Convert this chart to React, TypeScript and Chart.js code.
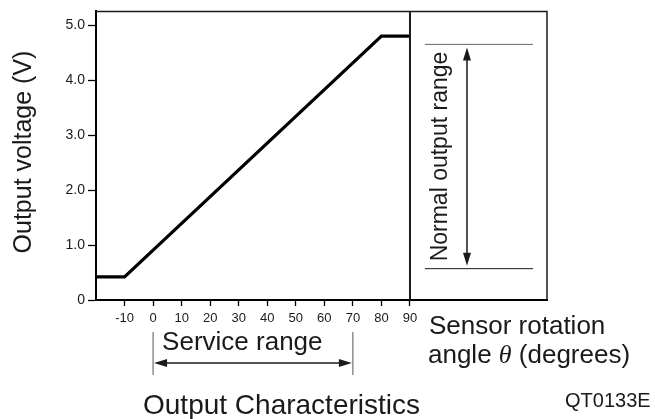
import React, { useEffect, useRef } from "react";
import { Chart, registerables } from "chart.js";

Chart.register(...registerables);

// ---- data ----
const angles = [-20, -10, 80, 90];
const voltages = [0.42, 0.42, 4.8, 4.8];
const xTickValues = [-10, 0, 10, 20, 30, 40, 50, 60, 70, 80, 90];
const yTickValues = [0, 1, 2, 3, 4, 5];
const normalOutputRange = [0.57, 4.65];
const serviceRange = [0, 70];
const sensorLimitAngle = 90;

const FONT = '"Liberation Sans", Arial, sans-serif';
const INK = "#1a1a1a";

function arrowHead(ctx: CanvasRenderingContext2D, x: number, y: number, dx: number, dy: number, len: number, half: number) {
  const px = -dy, py = dx;
  ctx.beginPath();
  ctx.moveTo(x, y);
  ctx.lineTo(x - dx * len + px * half, y - dy * len + py * half);
  ctx.lineTo(x - dx * len - px * half, y - dy * len - py * half);
  ctx.closePath();
  ctx.fill();
}

const annotations = {
  id: "annotations",
  afterDraw(chart: any) {
    const ctx: CanvasRenderingContext2D = chart.ctx;
    const xs = chart.scales.x;
    const ys = chart.scales.y;
    const { left, right, top, bottom } = chart.chartArea;
    ctx.save();
    ctx.strokeStyle = INK;
    ctx.fillStyle = INK;

    // box top and right
    ctx.lineWidth = 1.5;
    ctx.beginPath();
    ctx.moveTo(left, top);
    ctx.lineTo(right, top);
    ctx.lineTo(right, bottom);
    ctx.stroke();

    // limit line at 90 deg
    const x90 = xs.getPixelForValue(sensorLimitAngle);
    ctx.lineWidth = 2;
    ctx.beginPath();
    ctx.moveTo(x90, top);
    ctx.lineTo(x90, bottom);
    ctx.stroke();

    // normal output range
    const yHi = ys.getPixelForValue(normalOutputRange[1]);
    const yLo = ys.getPixelForValue(normalOutputRange[0]);
    const lineL = x90 + 15;
    const lineR = right - 14;
    ctx.lineWidth = 1;
    ctx.strokeStyle = "#666";
    ctx.beginPath();
    ctx.moveTo(lineL, yHi);
    ctx.lineTo(lineR, yHi);
    ctx.stroke();
    ctx.strokeStyle = INK;
    ctx.beginPath();
    ctx.moveTo(lineL, yLo);
    ctx.lineTo(lineR, yLo);
    ctx.stroke();
    const ax = x90 + 57;
    ctx.lineWidth = 1.5;
    ctx.beginPath();
    ctx.moveTo(ax, yHi + 10);
    ctx.lineTo(ax, yLo - 10);
    ctx.stroke();
    arrowHead(ctx, ax, yHi + 3, 0, -1, 13, 4);
    arrowHead(ctx, ax, yLo - 3, 0, 1, 13, 4);

    ctx.save();
    ctx.translate(x90 + 37, (yHi + yLo) / 2);
    ctx.rotate(-Math.PI / 2);
    ctx.font = `23px ${FONT}`;
    ctx.textAlign = "center";
    ctx.textBaseline = "alphabetic";
    ctx.fillText("Normal output range", 0, 0);
    ctx.restore();

    // service range
    const sx0 = xs.getPixelForValue(serviceRange[0]);
    const sx1 = xs.getPixelForValue(serviceRange[1]);
    ctx.strokeStyle = "#555";
    ctx.lineWidth = 1;
    ctx.beginPath();
    ctx.moveTo(sx0, bottom + 32);
    ctx.lineTo(sx0, bottom + 75);
    ctx.moveTo(sx1, bottom + 32);
    ctx.lineTo(sx1, bottom + 75);
    ctx.stroke();
    const sy = bottom + 63;
    ctx.strokeStyle = INK;
    ctx.lineWidth = 1.5;
    ctx.beginPath();
    ctx.moveTo(sx0 + 8, sy);
    ctx.lineTo(sx1 - 8, sy);
    ctx.stroke();
    arrowHead(ctx, sx0 + 1, sy, -1, 0, 13, 4);
    arrowHead(ctx, sx1 - 1, sy, 1, 0, 13, 4);

    ctx.font = `26px ${FONT}`;
    ctx.textAlign = "left";
    ctx.textBaseline = "alphabetic";
    ctx.fillText("Service range", sx0 + 9, bottom + 50);

    // x axis label
    ctx.fillText("Sensor rotation", x90 + 19, 334);
    let tx = x90 + 18;
    ctx.fillText("angle ", tx, 363);
    tx += ctx.measureText("angle ").width;
    ctx.font = `italic 26px "Liberation Serif", "Times New Roman", serif`;
    ctx.fillText("\u03b8", tx, 363);
    tx += ctx.measureText("\u03b8").width;
    ctx.font = `26px ${FONT}`;
    ctx.fillText(" (degrees)", tx, 363);

    // y axis label
    ctx.save();
    ctx.translate(31, 152);
    ctx.rotate(-Math.PI / 2);
    ctx.font = `25px ${FONT}`;
    ctx.textAlign = "center";
    ctx.fillText("Output voltage (V)", 0, 0);
    ctx.restore();

    // title
    ctx.font = `28px ${FONT}`;
    ctx.textAlign = "left";
    ctx.fillText("Output Characteristics", 143, 414);

    ctx.font = `20px ${FONT}`;
    ctx.fillText("QT0133E", 565, 407);

    ctx.restore();
  },
};

export default function App() {
  const ref = useRef<HTMLCanvasElement | null>(null);
  useEffect(() => {
    if (!ref.current) return;
    const chart = new Chart(ref.current, {
      type: "line",
      data: {
        datasets: [
          {
            data: angles.map((a, i) => ({ x: a, y: voltages[i] })),
            borderColor: "#000",
            borderWidth: 3.2,
            pointRadius: 0,
            tension: 0,
            fill: false,
          },
        ],
      },
      options: {
        animation: false,
        responsive: false,
        events: [],
        layout: { padding: { top: 9, right: 108, left: 0, bottom: 0 } },
        plugins: { legend: { display: false }, tooltip: { enabled: false } },
        scales: {
          x: {
            type: "linear",
            min: -20,
            max: 138,
            afterBuildTicks: (axis: any) => {
              axis.ticks = xTickValues.map((v) => ({ value: v }));
            },
            afterFit: (axis: any) => {
              axis.height = 119;
            },
            border: { display: true, color: "#000", width: 2 },
            grid: { drawOnChartArea: false, drawTicks: true, tickLength: 6, tickColor: "#000", tickWidth: 1.3 },
            ticks: {
              autoSkip: false,
              maxRotation: 0,
              padding: 5,
              color: INK,
              font: { family: FONT, size: 13 },
              callback: (v: any) => String(v),
            },
          },
          y: {
            type: "linear",
            min: 0,
            max: 5.25,
            afterBuildTicks: (axis: any) => {
              axis.ticks = yTickValues.map((v) => ({ value: v }));
            },
            afterFit: (axis: any) => {
              axis.width = 96;
            },
            border: { display: true, color: "#000", width: 2 },
            grid: { drawOnChartArea: false, drawTicks: true, tickLength: 8, tickColor: "#000", tickWidth: 1.3 },
            ticks: {
              autoSkip: false,
              padding: 3,
              color: INK,
              font: { family: FONT, size: 14 },
              callback: (v: any) => (Number(v) === 0 ? "0" : Number(v).toFixed(1)),
            },
          },
        },
      },
      plugins: [annotations],
    });
    return () => chart.destroy();
  }, []);
  return (
    <div style={{ position: "absolute", left: 0, top: 0, width: 655, height: 419, background: "#fff" }}>
      <canvas ref={ref} width={655} height={419} />
    </div>
  );
}
